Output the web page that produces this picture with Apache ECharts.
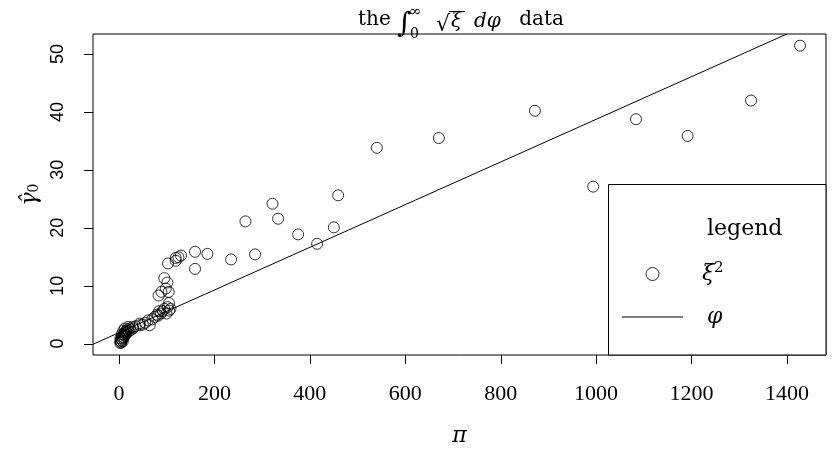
<!DOCTYPE html>
<html>
<head>
<meta charset="utf-8">
<script src="https://cdn.jsdelivr.net/npm/echarts@6/dist/echarts.min.js"></script>
<style>
html,body{margin:0;padding:0;background:#fff;}
#chart{width:834px;height:452px;}
</style>
</head>
<body>
<div id="chart"></div>
<script>
// scatter points (pi, xi^2)
var piX = [2.5,3,4,5,3,6,7,8,9,10,11,12,13,14,15,16,18,20,22,24,6,9,12,5,8,
  18.9,29.4,29.4,35,43.4,43.4,50,55,60.8,64.4,
  70,75,80,82,84,88,92,95,99.4,102,105,108,104.9,
  83,88.9,104.2,98,101.5,95,
  102.8,118.9,118.9,124.6,130,159.4,159.4,185.3,235,285.3,265.1,321.7,333.5,375.5,415.3,450.3,459.4,
  540.5,670.5,871.8,994,1083.7,1192,1324.9,1427.6];
var xiY = [0.1,0.5,0.3,0.8,1.0,0.6,1.2,0.9,1.5,1.1,1.8,1.4,2.0,1.6,2.2,1.9,2.4,2.1,2.6,2.3,1.6,2.2,2.6,0.2,0.4,
  2.87,2.87,2.6,3.0,3.46,3.17,3.3,3.6,4.0,3.17,
  4.2,4.6,5.0,4.8,5.6,5.2,5.64,6.0,5.19,6.3,5.7,6.0,7.0,
  8.3,8.93,8.93,9.5,10.55,11.3,
  13.84,14.3,14.8,14.9,15.2,15.85,12.9,15.5,14.53,15.4,21.1,24.15,21.56,18.86,17.23,20.07,25.6,
  33.8,35.5,40.2,27.1,38.75,35.87,41.97,51.44];
// reference line (phi) endpoints
var lineX = [-54.5, 1400];
var lineY = [-0.12, 53.46];
// ticks
var xTicks = [0,200,400,600,800,1000,1200,1400];
var yTicks = [0,10,20,30,40,50];
// axis ranges
var xRange = [-54.5, 1482];
var yRange = [-1.97, 53.46];

var scatterData = piX.map(function(x,i){return [x, xiY[i]];});
var lineData = lineX.map(function(x,i){return [x, lineY[i]];});

var TICK = 9;
function crisp(v){ return Math.round(v) + 0.5; }

var chart = echarts.init(document.getElementById('chart'));
var serif = 'DejaVu Serif';
var baseGraphic = [
  {type: 'rect', z: 50, shape: {x: 608.5, y: 184.5, width: 217.5, height: 170.5}, style: {fill: '#fff', stroke: '#000', lineWidth: 1}},
  {type: 'text', z: 51, x: 707, y: 229, style: {text: 'legend', font: '22px "DejaVu Serif"', fill: '#000', textVerticalAlign: 'middle'}},
  {type: 'text', z: 60, x: 358, y: 30, style: {text: 'the', font: '20px "DejaVu Serif"', fill: '#000', textVerticalAlign: 'bottom'}},
  {type: 'text', z: 60, x: 397, y: 39, style: {text: '∫', font: 'italic 28px "DejaVu Serif"', fill: '#000', textVerticalAlign: 'bottom'}},
  {type: 'text', z: 60, x: 409, y: 20, style: {text: '∞', font: '15px "DejaVu Serif"', fill: '#000', textVerticalAlign: 'bottom'}},
  {type: 'text', z: 60, x: 410, y: 41, style: {text: '0', font: '14px "DejaVu Serif"', fill: '#000', textVerticalAlign: 'bottom'}},
  {type: 'text', z: 60, x: 436, y: 36, style: {text: '√', font: '22px "DejaVu Serif"', fill: '#000', textVerticalAlign: 'bottom'}},
  {type: 'line', z: 60, shape: {x1: 449, y1: 11.5, x2: 465, y2: 11.5}, style: {stroke: '#000', lineWidth: 1}},
  {type: 'text', z: 60, x: 451, y: 32, style: {text: 'ξ', font: 'italic 20px "DejaVu Serif"', fill: '#000', textVerticalAlign: 'bottom'}},
  {type: 'text', z: 60, x: 474, y: 32, style: {text: 'dφ', font: 'italic 20px "DejaVu Serif"', fill: '#000', textVerticalAlign: 'bottom'}},
  {type: 'text', z: 60, x: 564, y: 30, style: {text: 'data', font: '20px "DejaVu Serif"', fill: '#000', textAlign: 'right', textVerticalAlign: 'bottom'}}
];
chart.setOption({
  animation: false,
  backgroundColor: '#fff',
  grid: {left: 93, right: 8, top: 34, bottom: 97, show: true, borderColor: '#000', borderWidth: 1, backgroundColor: 'transparent'},
  xAxis: {
    type: 'value', min: xRange[0], max: xRange[1],
    splitLine: {show: false},
    axisLine: {show: false, onZero: false},
    axisTick: {show: false},
    axisLabel: {customValues: xTicks, margin: 28, fontFamily: 'Liberation Serif', fontSize: 22, color: '#000',
      formatter: function(v){ return String(v); }},
    name: 'π', nameLocation: 'middle', nameGap: 70,
    nameTextStyle: {fontFamily: serif, fontStyle: 'italic', fontSize: 22, color: '#000'}
  },
  yAxis: {
    type: 'value', min: yRange[0], max: yRange[1],
    splitLine: {show: false},
    axisLine: {show: false, onZero: false},
    axisTick: {show: false},
    axisLabel: {customValues: yTicks, rotate: 90, margin: 26, fontFamily: 'Liberation Sans', fontSize: 18, color: '#000',
      formatter: function(v){ return String(v); }},
    name: '{g|γ\u0302}{s|0}', nameLocation: 'middle', nameRotate: 90, nameGap: 52,
    nameTextStyle: {color: '#000', rich: {
      g: {fontFamily: serif, fontStyle: 'italic', fontSize: 22, color: '#000'},
      s: {fontFamily: serif, fontSize: 14, color: '#000', verticalAlign: 'bottom'}
    }}
  },
  legend: {
    orient: 'vertical', left: 617, top: 256, z: 80,
    itemWidth: 61, itemHeight: 13, itemGap: 17,
    data: [
      {name: 'xi', icon: 'circle', itemStyle: {color: 'rgba(0,0,0,0)', borderColor: '#000', borderWidth: 1}},
      {name: 'phi', icon: 'path://M0,0 L61,0 L61,1 L0,1 Z', itemStyle: {color: '#000', borderWidth: 0}}
    ],
    formatter: function(n){ return n === 'xi' ? '{p|}{i|ξ}{s|2}' : '{q|}{i|φ}'; },
    textStyle: {color: '#000', fontSize: 22, lineHeight: 26, rich: {
      p: {width: 14},
      q: {width: 19},
      i: {fontFamily: serif, fontStyle: 'italic', fontSize: 22, lineHeight: 26, color: '#000'},
      s: {fontFamily: serif, fontSize: 15, lineHeight: 15, verticalAlign: 'top', color: '#000'}
    }}
  },
  graphic: baseGraphic,
  series: [
    {name: 'xi', type: 'scatter', data: scatterData, symbol: 'circle', symbolSize: 11,
     itemStyle: {color: 'rgba(0,0,0,0)', borderColor: '#000', borderWidth: 1}, z: 3},
    {name: 'phi', type: 'line', data: lineData, showSymbol: false, symbol: 'none',
     lineStyle: {color: '#000', width: 1}, itemStyle: {color: '#000'}, z: 2}
  ]
});

// tick marks positioned through the chart's own scales
var tickGraphic = [];
xTicks.forEach(function(v){
  var p = chart.convertToPixel({gridIndex: 0}, [v, yRange[0]]);
  var x = crisp(p[0]), y = Math.round(p[1]);
  tickGraphic.push({type: 'line', z: 100, shape: {x1: x, y1: y, x2: x, y2: y + TICK}, style: {stroke: '#000', lineWidth: 1}});
});
yTicks.forEach(function(v){
  var p = chart.convertToPixel({gridIndex: 0}, [xRange[0], v]);
  var x = Math.round(p[0]), y = crisp(p[1]);
  tickGraphic.push({type: 'line', z: 100, shape: {x1: x, y1: y, x2: x - TICK, y2: y}, style: {stroke: '#000', lineWidth: 1}});
});
chart.setOption({graphic: baseGraphic.concat(tickGraphic)});
</script>
</body>
</html>
